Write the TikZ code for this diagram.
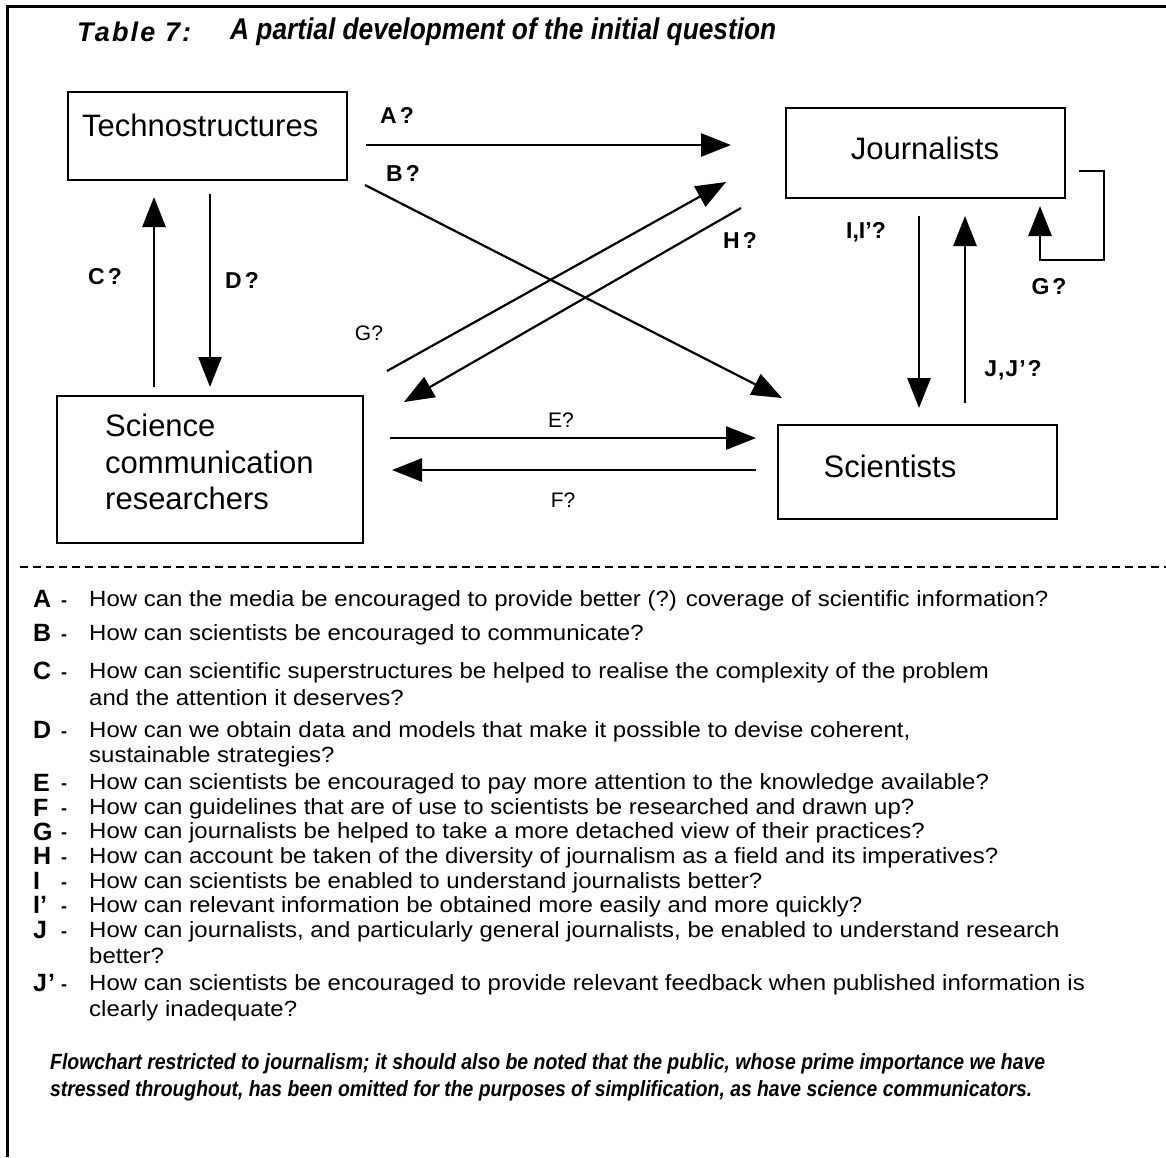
\documentclass[tikz,border=0pt]{standalone}
\usepackage{fontspec}
\setmainfont{Liberation Sans}
\usetikzlibrary{arrows.meta}
\newcommand\bodytxt[1]{\scalebox{1.09}[1]{\fontsize{22}{26}\selectfont #1}}
\begin{document}
\begin{tikzpicture}[x=1pt,y=-1pt,
  box/.style={draw, line width=2.4pt, rectangle, inner sep=0pt},
  boxtext/.style={inner sep=0pt, font=\fontsize{31}{37}\selectfont},
  arr/.style={line width=2.8pt, -{Triangle[length=30pt,width=23pt]}},
  diag/.style={line width=2.2pt, -{Triangle[length=30pt,width=23pt]}},
  lbl/.style={inner sep=0pt, font=\fontsize{23}{27}\selectfont\bfseries},
  slbl/.style={inner sep=0pt, font=\fontsize{21}{25}\selectfont},
  lett/.style={anchor=base west, inner sep=0pt, font=\fontsize{25}{28}\selectfont\bfseries},
  dsh/.style={anchor=base west, inner sep=0pt, font=\fontsize{18}{20}\selectfont\bfseries},
  body/.style={anchor=base west, inner sep=0pt}
]
\useasboundingbox (0,0) rectangle (1166,1157);
\fill[white] (0,0) rectangle (1166,1157);

% frame
\draw[line width=3pt] (7,1157) -- (7,6) -- (1166,6);

% title
\node[anchor=west, inner sep=0pt, font=\fontsize{27}{30}\selectfont\bfseries\itshape\addfontfeature{LetterSpace=8}] (ttl1) at (77,32) {Table 7:};
\node[anchor=west, inner sep=0pt] (ttl2) at (230,32) {\resizebox{546pt}{\height}{\fontsize{30}{34}\selectfont\bfseries\itshape A partial development of the initial question}};

% boxes
\node[box, minimum width=279pt, minimum height=88pt] (tech) at (207.5,136) {};
\node[boxtext, anchor=west] (techt) at (82,125) {Technostructures};
\node[box, minimum width=279pt, minimum height=90pt] (jour) at (925.5,153) {};
\node[boxtext] (jourt) at (925,148) {Journalists};
\node[box, minimum width=279pt, minimum height=94pt] (sci) at (917.5,472) {};
\node[boxtext] (scit) at (890,466) {Scientists};
\node[box, minimum width=306pt, minimum height=147pt] (scr) at (210,469.5) {};
\node[boxtext, anchor=west] (scr1) at (105,425) {Science};
\node[boxtext, anchor=west] (scr2) at (105,462) {communication};
\node[boxtext, anchor=west] (scr3) at (105,498) {researchers};

% connector end points
\coordinate (aS) at (366,145); \coordinate (aE) at (731,145);
\coordinate (bS) at (365,185); \coordinate (bE) at (782,398);
\coordinate (cS) at (154,387); \coordinate (cE) at (154,197);
\coordinate (dS) at (210,194); \coordinate (dE) at (210,387);
\coordinate (gS) at (387,371); \coordinate (gE) at (726,182);
\coordinate (hS) at (741,208); \coordinate (hE) at (404,402);
\coordinate (eS) at (390,438); \coordinate (eE) at (756,438);
\coordinate (fS) at (756,470); \coordinate (fE) at (392,470);
\coordinate (iS) at (919,216); \coordinate (iE) at (919,408);
\coordinate (jS) at (965,403); \coordinate (jE) at (965,216);
\coordinate (l1) at (1079,171); \coordinate (l2) at (1104,171);
\coordinate (l3) at (1104,260); \coordinate (l4) at (1040,260);
\coordinate (lE) at (1040,206);

% connectors
\draw[arr] (aS) -- (aE);
\draw[diag] (bS) -- (bE);
\draw[arr] (cS) -- (cE);
\draw[arr] (dS) -- (dE);
\draw[diag] (gS) -- (gE);
\draw[diag] (hS) -- (hE);
\draw[arr] (eS) -- (eE);
\draw[arr] (fS) -- (fE);
\draw[arr] (iS) -- (iE);
\draw[arr] (jS) -- (jE);
\draw[arr] (l1) -- (l2) -- (l3) -- (l4) -- (lE);

% connector labels
\node[lbl] (la) at (397,115) {A\hspace{3pt}?};
\node[lbl] (lb) at (403,173) {B\hspace{3pt}?};
\node[lbl] (lc) at (105,277) {C\hspace{3pt}?};
\node[lbl] (ld) at (242,280) {D\hspace{3pt}?};
\node[lbl] (lh) at (740,240) {H\hspace{3pt}?};
\node[lbl] (lg) at (1049,287) {G\hspace{3pt}?};
\node[lbl] (li) at (866,232) {I,I’?};
\node[lbl] (lj) at (1013,370) {J\hspace{1pt},\hspace{1pt}J\hspace{1pt}’\hspace{2pt}?};
\node[slbl] (lg2) at (369,333) {G?};
\node[slbl] (le) at (561,420) {E?};
\node[slbl] (lf) at (563,500) {F?};

% separator
\draw[line width=2.2pt, dash pattern=on 8pt off 5pt] (20,567) -- (1166,567);

% legend
\node[lett] (kA) at (33,607) {A}; \node[dsh] (dA) at (61,606) {-};
\node[body] (qA) at (89,606) {\bodytxt{How can the media be encouraged to provide better (?) coverage of scientific information?}};
\node[lett] (kB) at (33,641) {B}; \node[dsh] (dB) at (61,640) {-};
\node[body] (qB) at (89,640) {\bodytxt{How can scientists be encouraged to communicate?}};
\node[lett] (kC) at (33,679) {C}; \node[dsh] (dC) at (61,678) {-};
\node[body] (qC) at (89,678) {\bodytxt{How can scientific superstructures be helped to realise the complexity of the problem}};
\node[body] (qC2) at (89,705) {\bodytxt{and the attention it deserves?}};
\node[lett] (kD) at (33,738) {D}; \node[dsh] (dD) at (61,737) {-};
\node[body] (qD) at (89,737) {\bodytxt{How can we obtain data and models that make it possible to devise coherent,}};
\node[body] (qD2) at (89,762) {\bodytxt{sustainable strategies?}};
\node[lett] (kE) at (33,791) {E}; \node[dsh] (dE2) at (61,789) {-};
\node[body] (qE) at (89,789) {\bodytxt{How can scientists be encouraged to pay more attention to the knowledge available?}};
\node[lett] (kF) at (33,816) {F}; \node[dsh] (dF) at (61,814) {-};
\node[body] (qF) at (89,814) {\bodytxt{How can guidelines that are of use to scientists be researched and drawn up?}};
\node[lett] (kG) at (33,840) {G}; \node[dsh] (dG) at (61,838) {-};
\node[body] (qG) at (89,838) {\bodytxt{How can journalists be helped to take a more detached view of their practices?}};
\node[lett] (kH) at (33,864) {H}; \node[dsh] (dH) at (61,863) {-};
\node[body] (qH) at (89,863) {\bodytxt{How can account be taken of the diversity of journalism as a field and its imperatives?}};
\node[lett] (kI) at (33,889) {I}; \node[dsh] (dI) at (61,888) {-};
\node[body] (qI) at (89,888) {\bodytxt{How can scientists be enabled to understand journalists better?}};
\node[lett] (kI2) at (33,913) {I’}; \node[dsh] (dI2) at (61,912) {-};
\node[body] (qI2) at (89,912) {\bodytxt{How can relevant information be obtained more easily and more quickly?}};
\node[lett] (kJ) at (33,938) {J}; \node[dsh] (dJ) at (61,937) {-};
\node[body] (qJ) at (89,937) {\bodytxt{How can journalists, and particularly general journalists, be enabled to understand research}};
\node[body] (qJb) at (89,963) {\bodytxt{better?}};
\node[lett] (kJ2) at (33,991) {J\hspace{1pt}’}; \node[dsh] (dJ2) at (61,990) {-};
\node[body] (qJ2) at (89,990) {\bodytxt{How can scientists be encouraged to provide relevant feedback when published information is}};
\node[body] (qJ2b) at (89,1016) {\bodytxt{clearly inadequate?}};

% note
\node[anchor=base west, inner sep=0pt] (n1) at (50,1069) {\resizebox{995pt}{\height}{\fontsize{22}{26}\selectfont\bfseries\itshape Flowchart restricted to journalism; it should also be noted that the public, whose prime importance we have}};
\node[anchor=base west, inner sep=0pt] (n2) at (50,1096) {\resizebox{982pt}{\height}{\fontsize{22}{26}\selectfont\bfseries\itshape stressed throughout, has been omitted for the purposes of simplification, as have science communicators.}};
\end{tikzpicture}
\end{document}
